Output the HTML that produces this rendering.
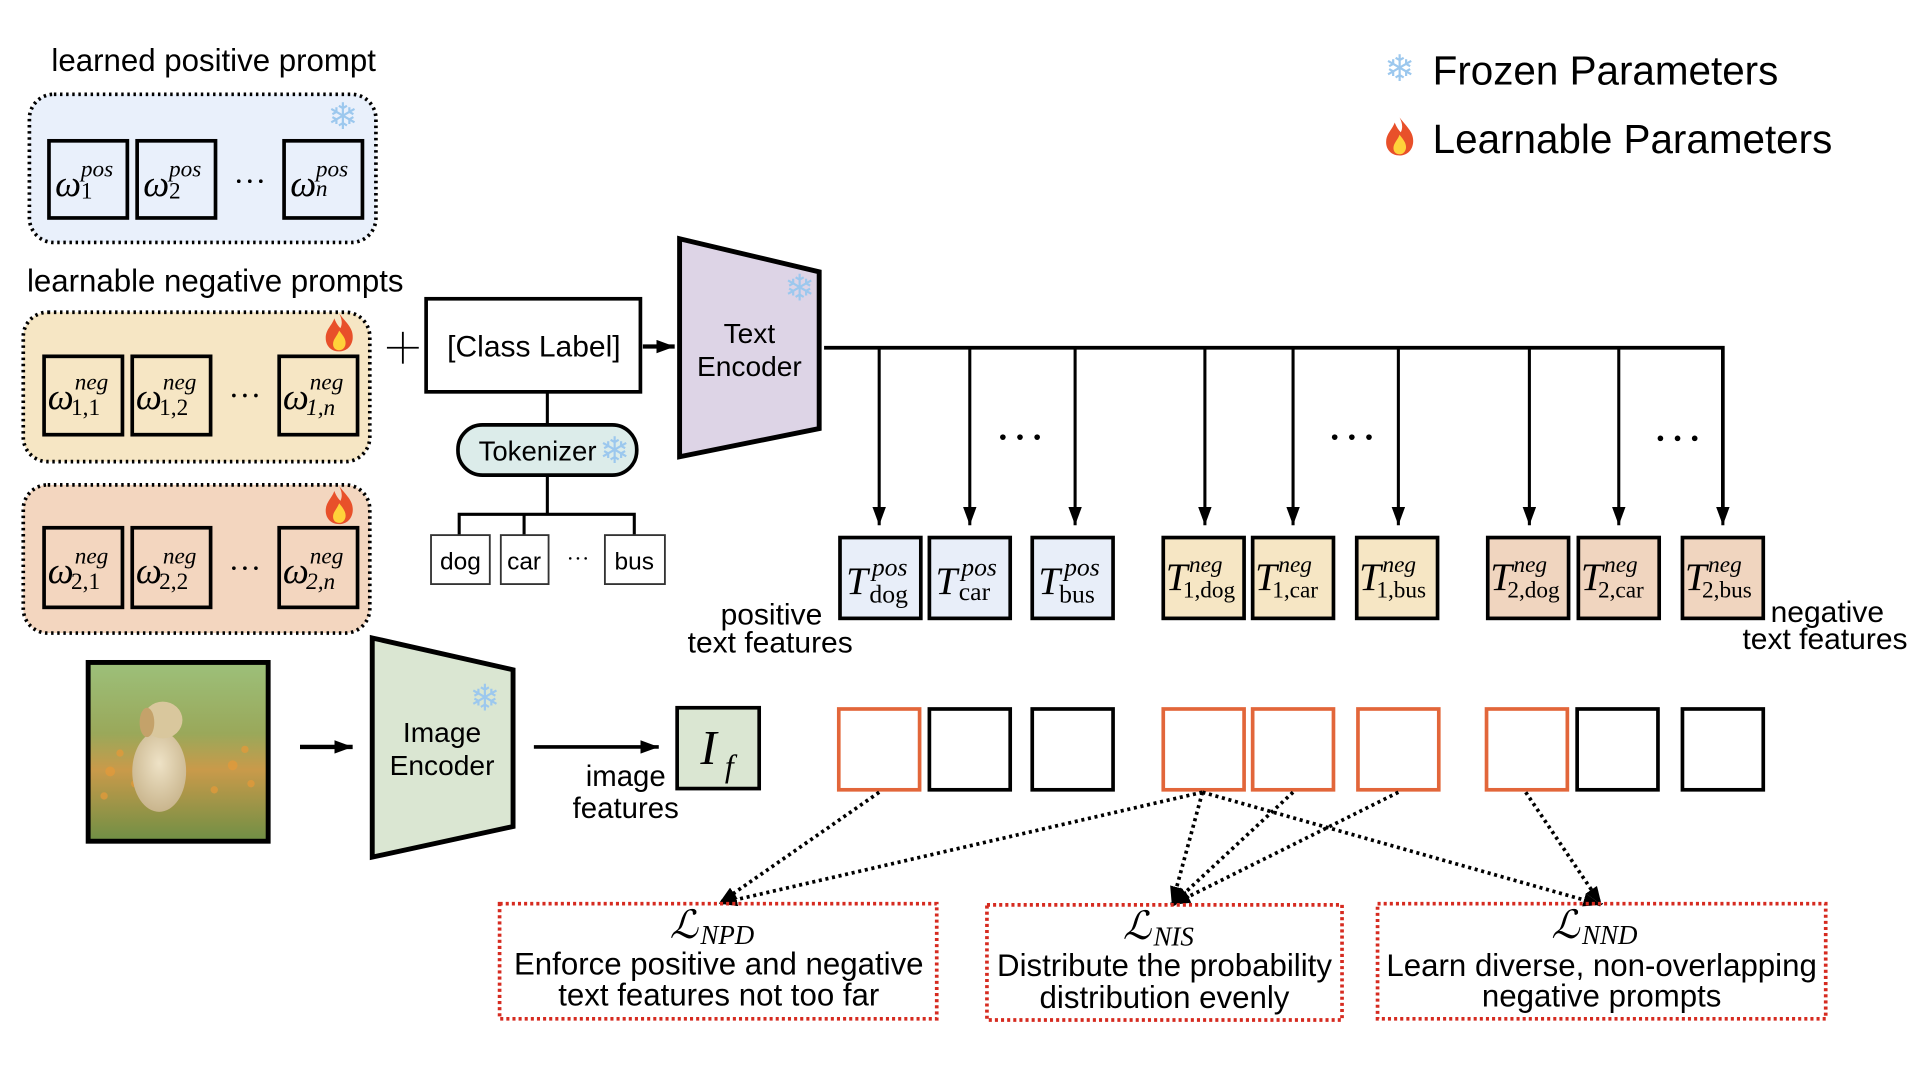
<!DOCTYPE html>
<html><head><meta charset="utf-8"><style>
html,body{margin:0;padding:0;background:#fff;}
svg{display:block;}
.s{font-family:"Liberation Sans",sans-serif;fill:#000;}
.m{font-family:"Liberation Serif",serif;font-style:italic;fill:#000;}
</style></head><body>
<svg width="1920" height="1080" viewBox="0 0 1568 882" xmlns="http://www.w3.org/2000/svg">
<defs>
<marker id="ah" viewBox="0 0 10 10" refX="10" refY="5" markerWidth="15" markerHeight="11" orient="auto" markerUnits="userSpaceOnUse" preserveAspectRatio="none">
<path d="M0,0 L10,5 L0,10 z" fill="#000"/></marker>
<g id="snow"><text x="0" y="0" font-family="DejaVu Sans,sans-serif" font-size="30" fill="#9cc8ee" text-anchor="middle" dominant-baseline="central">❄</text></g>
<g id="fire"><path d="M0,-16 C6,-8 12,-4 11,5 C10,12 5,15 0,15 C-6,15 -11,11 -11,4 C-11,-3 -6,-6 -4,-12 C-2,-7 0,-5 1,-4 C3,-8 2,-12 0,-16 z" fill="#e8502a"/><path d="M0,-2 C4,3 6,6 5,10 C4,13 2,14 0,14 C-3,14 -5,12 -5,9 C-5,5 -2,3 0,-2 z" fill="#ffd23a"/></g>
<g id="dots"><circle cx="-14" cy="0" r="2.3"/><circle cx="0" cy="0" r="2.3"/><circle cx="14" cy="0" r="2.3"/></g>
<g id="sdots"><circle cx="-9" cy="0" r="1.5"/><circle cx="0" cy="0" r="1.5"/><circle cx="9" cy="0" r="1.5"/></g>
<radialGradient id="dg" cx="0.5" cy="0.4" r="0.6"><stop offset="0" stop-color="#eee2c6"/><stop offset="1" stop-color="#c9b58d"/></radialGradient>
<linearGradient id="bg" x1="0" y1="0" x2="0" y2="1"><stop offset="0" stop-color="#9cc07a"/><stop offset="0.4" stop-color="#9aa85a"/><stop offset="0.6" stop-color="#c99a4a"/><stop offset="1" stop-color="#6f8f45"/></linearGradient>
</defs>

<!-- legend -->
<use href="#snow" x="1143" y="56"/>
<text class="s" x="1170" y="69" font-size="33">Frozen Parameters</text>
<use href="#fire" x="1143" y="112"/>
<text class="s" x="1170" y="125" font-size="33">Learnable Parameters</text>

<!-- positive prompt -->
<text class="s" x="42" y="58" font-size="25.5">learned positive prompt</text>
<rect x="24" y="77" width="283" height="121" rx="20" fill="#e9f0fb" stroke="#000" stroke-width="3" stroke-dasharray="2,3"/>
<use href="#snow" x="280" y="95"/>
<g stroke="#000" stroke-width="3" fill="none">
<rect x="40" y="115" width="64" height="63"/><rect x="112" y="115" width="64" height="63"/><rect x="232" y="115" width="64" height="63"/>
</g>
<text class="m" font-size="30"><tspan x="45" y="160">ω</tspan><tspan x="66" y="144" font-size="19">pos</tspan><tspan x="66" y="162" font-size="19" font-style="normal">1</tspan></text>
<text class="m" font-size="30"><tspan x="117" y="160">ω</tspan><tspan x="138" y="144" font-size="19">pos</tspan><tspan x="138" y="162" font-size="19" font-style="normal">2</tspan></text>
<text class="m" font-size="30"><tspan x="237" y="160">ω</tspan><tspan x="258" y="144" font-size="19">pos</tspan><tspan x="258" y="160" font-size="19">n</tspan></text>
<use href="#sdots" x="204" y="148"/>

<!-- negative prompts -->
<text class="s" x="22" y="238" font-size="25.5">learnable negative prompts</text>
<rect x="19" y="255" width="283" height="122" rx="20" fill="#f6e6c4" stroke="#000" stroke-width="3" stroke-dasharray="2,3"/>
<use href="#fire" x="277" y="272"/>
<g stroke="#000" stroke-width="3" fill="none">
<rect x="36" y="291" width="64" height="64"/><rect x="108" y="291" width="64" height="64"/><rect x="228" y="291" width="64" height="64"/>
</g>
<text class="m" font-size="30"><tspan x="39" y="334">ω</tspan><tspan x="61" y="318" font-size="19">neg</tspan><tspan x="58" y="339" font-size="19" font-style="normal">1,1</tspan></text>
<text class="m" font-size="30"><tspan x="111" y="334">ω</tspan><tspan x="133" y="318" font-size="19">neg</tspan><tspan x="130" y="339" font-size="19" font-style="normal">1,2</tspan></text>
<text class="m" font-size="30"><tspan x="231" y="334">ω</tspan><tspan x="253" y="318" font-size="19">neg</tspan><tspan x="250" y="339" font-size="19">1,n</tspan></text>
<use href="#sdots" x="200" y="323"/>

<rect x="19" y="396" width="283" height="121" rx="20" fill="#f3d6bf" stroke="#000" stroke-width="3" stroke-dasharray="2,3"/>
<use href="#fire" x="277" y="413"/>
<g stroke="#000" stroke-width="3" fill="none">
<rect x="36" y="431" width="64" height="65"/><rect x="108" y="431" width="64" height="65"/><rect x="228" y="431" width="64" height="65"/>
</g>
<text class="m" font-size="30"><tspan x="39" y="476">ω</tspan><tspan x="61" y="460" font-size="19">neg</tspan><tspan x="58" y="481" font-size="19" font-style="normal">2,1</tspan></text>
<text class="m" font-size="30"><tspan x="111" y="476">ω</tspan><tspan x="133" y="460" font-size="19">neg</tspan><tspan x="130" y="481" font-size="19" font-style="normal">2,2</tspan></text>
<text class="m" font-size="30"><tspan x="231" y="476">ω</tspan><tspan x="253" y="460" font-size="19">neg</tspan><tspan x="250" y="481" font-size="19">2,n</tspan></text>
<use href="#sdots" x="200" y="464"/>

<!-- plus & class label -->
<g stroke="#000" stroke-width="1.5"><line x1="316" y1="284" x2="342" y2="284"/><line x1="329" y1="271" x2="329" y2="297"/></g>
<rect x="348" y="244" width="175" height="76" fill="#fff" stroke="#000" stroke-width="3"/>
<text class="s" x="436" y="291" font-size="24.5" text-anchor="middle">[Class Label]</text>
<line x1="525" y1="283" x2="551" y2="283" stroke="#000" stroke-width="3.5" marker-end="url(#ah)"/>

<!-- tokenizer -->
<line x1="447" y1="320" x2="447" y2="347" stroke="#000" stroke-width="2.5"/>
<rect x="374" y="347" width="146" height="41" rx="20" fill="#dcecea" stroke="#000" stroke-width="3"/>
<text class="s" x="439" y="376" font-size="22.5" text-anchor="middle">Tokenizer</text>
<use href="#snow" x="502" y="368"/>
<g stroke="#000" stroke-width="2.5" fill="none">
<line x1="447" y1="388" x2="447" y2="420"/>
<polyline points="375,437 375,420 518,420 518,437"/>
<line x1="428" y1="420" x2="428" y2="437"/>
</g>
<g stroke="#333" stroke-width="1.5" fill="#fff">
<rect x="352" y="437" width="48" height="40"/><rect x="409" y="437" width="39" height="40"/><rect x="494" y="437" width="49" height="40"/>
</g>
<text class="s" x="376" y="465" font-size="20" text-anchor="middle">dog</text>
<text class="s" x="428" y="465" font-size="20" text-anchor="middle">car</text>
<text class="s" x="518" y="465" font-size="20" text-anchor="middle">bus</text>
<g transform="translate(472,456) scale(0.7)"><use href="#sdots"/></g>

<!-- text encoder -->
<polygon points="555,195 669,222 669,350 555,373" fill="#ddd4e6" stroke="#000" stroke-width="4"/>
<use href="#snow" x="653" y="235"/>
<text class="s" x="612" y="280" font-size="23" text-anchor="middle">Text</text>
<text class="s" x="612" y="307" font-size="23" text-anchor="middle">Encoder</text>

<!-- distribution lines -->
<polyline points="673,284 1407,284 1407,416" stroke="#000" stroke-width="3" fill="none"/>
<g stroke="#000" stroke-width="2.5" marker-end="url(#ah)">
<line x1="718" y1="284" x2="718" y2="429"/><line x1="792" y1="284" x2="792" y2="429"/><line x1="878" y1="284" x2="878" y2="429"/>
<line x1="984" y1="284" x2="984" y2="429"/><line x1="1056" y1="284" x2="1056" y2="429"/><line x1="1142" y1="284" x2="1142" y2="429"/>
<line x1="1249" y1="284" x2="1249" y2="429"/><line x1="1322" y1="284" x2="1322" y2="429"/><line x1="1407" y1="284" x2="1407" y2="429"/>
</g>
<use href="#dots" x="833" y="357"/>
<use href="#dots" x="1104" y="357"/>
<use href="#dots" x="1370" y="358"/>

<!-- T boxes -->
<g stroke="#000" stroke-width="3">
<rect x="686" y="439" width="66" height="66" fill="#e8eef9"/><rect x="759" y="439" width="66" height="66" fill="#e8eef9"/><rect x="843" y="439" width="66" height="66" fill="#e8eef9"/>
<rect x="950" y="439" width="66" height="66" fill="#f6e6c4"/><rect x="1023" y="439" width="66" height="66" fill="#f6e6c4"/><rect x="1108" y="439" width="66" height="66" fill="#f6e6c4"/>
<rect x="1215" y="439" width="66" height="66" fill="#f0d5bf"/><rect x="1289" y="439" width="66" height="66" fill="#f0d5bf"/><rect x="1374" y="439" width="66" height="66" fill="#f0d5bf"/>
</g>
<g class="m" font-size="32">
<text><tspan x="691" y="485">T</tspan><tspan x="712" y="470" font-size="21">pos</tspan><tspan x="710" y="492" font-size="21" font-style="normal">dog</tspan></text>
<text><tspan x="764" y="485">T</tspan><tspan x="785" y="470" font-size="21">pos</tspan><tspan x="783" y="490" font-size="21" font-style="normal">car</tspan></text>
<text><tspan x="848" y="485">T</tspan><tspan x="869" y="470" font-size="21">pos</tspan><tspan x="865" y="492" font-size="21" font-style="normal">bus</tspan></text>
<text><tspan x="952" y="482">T</tspan><tspan x="971" y="467" font-size="19">neg</tspan><tspan x="966" y="488" font-size="19" font-style="normal">1,dog</tspan></text>
<text><tspan x="1025" y="482">T</tspan><tspan x="1044" y="467" font-size="19">neg</tspan><tspan x="1039" y="488" font-size="19" font-style="normal">1,car</tspan></text>
<text><tspan x="1110" y="482">T</tspan><tspan x="1129" y="467" font-size="19">neg</tspan><tspan x="1124" y="488" font-size="19" font-style="normal">1,bus</tspan></text>
<text><tspan x="1217" y="482">T</tspan><tspan x="1236" y="467" font-size="19">neg</tspan><tspan x="1231" y="488" font-size="19" font-style="normal">2,dog</tspan></text>
<text><tspan x="1291" y="482">T</tspan><tspan x="1310" y="467" font-size="19">neg</tspan><tspan x="1305" y="488" font-size="19" font-style="normal">2,car</tspan></text>
<text><tspan x="1376" y="482">T</tspan><tspan x="1395" y="467" font-size="19">neg</tspan><tspan x="1390" y="488" font-size="19" font-style="normal">2,bus</tspan></text>
</g>
<text class="s" x="630" y="510" font-size="24.5" text-anchor="middle">positive</text>
<text class="s" x="629" y="533" font-size="24.5" text-anchor="middle">text features</text>
<text class="s" x="1446" y="508" font-size="24.5">negative</text>
<text class="s" x="1423" y="530" font-size="24.5">text features</text>

<!-- dog image -->
<rect x="72" y="541" width="147" height="146" fill="url(#bg)" stroke="#000" stroke-width="4"/>
<g fill="#e39a3a" opacity="0.75"><circle cx="90" cy="630" r="4"/><circle cx="110" cy="640" r="3"/><circle cx="190" cy="625" r="4"/><circle cx="205" cy="640" r="3"/><circle cx="175" cy="645" r="3"/><circle cx="85" cy="650" r="3"/><circle cx="200" cy="612" r="3"/><circle cx="98" cy="615" r="3"/></g>
<ellipse cx="130" cy="630" rx="22" ry="33" fill="url(#dg)"/>
<ellipse cx="133" cy="588" rx="16" ry="15" fill="#d9c79d"/>
<ellipse cx="120" cy="590" rx="6" ry="12" fill="#c4a26a"/>

<line x1="245" y1="610" x2="288" y2="610" stroke="#000" stroke-width="3.5" marker-end="url(#ah)"/>

<!-- image encoder -->
<polygon points="304,521 419,547 419,675 304,700" fill="#dae6d2" stroke="#000" stroke-width="4"/>
<use href="#snow" x="396" y="570"/>
<text class="s" x="361" y="606" font-size="23" text-anchor="middle">Image</text>
<text class="s" x="361" y="633" font-size="23" text-anchor="middle">Encoder</text>
<line x1="436" y1="610" x2="538" y2="610" stroke="#000" stroke-width="3" marker-end="url(#ah)"/>
<text class="s" x="511" y="642" font-size="24" text-anchor="middle">image</text>
<text class="s" x="511" y="668" font-size="24" text-anchor="middle">features</text>
<rect x="553" y="578" width="67" height="66" fill="#dae6d2" stroke="#000" stroke-width="3"/>
<text class="m" font-size="40"><tspan x="572" y="624">I</tspan><tspan x="592" y="634" font-size="26">f</tspan></text>

<!-- similarity boxes -->
<g stroke-width="3" fill="#fff">
<rect x="685" y="579" width="66" height="66" stroke="#e2663a"/>
<rect x="759" y="579" width="66" height="66" stroke="#000"/>
<rect x="843" y="579" width="66" height="66" stroke="#000"/>
<rect x="950" y="579" width="66" height="66" stroke="#e2663a"/>
<rect x="1023" y="579" width="66" height="66" stroke="#e2663a"/>
<rect x="1109" y="579" width="66" height="66" stroke="#e2663a"/>
<rect x="1214" y="579" width="66" height="66" stroke="#e2663a"/>
<rect x="1288" y="579" width="66" height="66" stroke="#000"/>
<rect x="1374" y="579" width="66" height="66" stroke="#000"/>
</g>

<!-- dotted arrows -->
<g stroke="#000" stroke-width="3" stroke-dasharray="2.5,3" fill="none" marker-end="url(#ah)">
<line x1="718" y1="647" x2="587" y2="738"/>
<line x1="982" y1="647" x2="587" y2="738"/>
<line x1="982" y1="647" x2="957" y2="739"/>
<line x1="1056" y1="647" x2="957" y2="739"/>
<line x1="1142" y1="647" x2="957" y2="739"/>
<line x1="982" y1="647" x2="1308" y2="739"/>
<line x1="1246" y1="647" x2="1308" y2="739"/>
</g>

<!-- loss boxes -->
<g stroke="#d62b20" stroke-width="3" stroke-dasharray="2.5,2.5" fill="none">
<rect x="408" y="738" width="357" height="94"/>
<rect x="806" y="739" width="290" height="94"/>
<rect x="1125" y="738" width="366" height="94"/>
</g>
<text class="m" font-size="32"><tspan x="547" y="766">ℒ</tspan><tspan x="572" y="771" font-size="22">NPD</tspan></text>
<text class="s" x="587" y="796" font-size="25.5" text-anchor="middle">Enforce positive and negative</text>
<text class="s" x="587" y="821" font-size="25.5" text-anchor="middle">text features not too far</text>
<text class="m" font-size="32"><tspan x="917" y="767">ℒ</tspan><tspan x="942" y="772" font-size="22">NIS</tspan></text>
<text class="s" x="951" y="797" font-size="25.5" text-anchor="middle">Distribute the probability</text>
<text class="s" x="951" y="823" font-size="25.5" text-anchor="middle">distribution evenly</text>
<text class="m" font-size="32"><tspan x="1267" y="766">ℒ</tspan><tspan x="1292" y="771" font-size="22">NND</tspan></text>
<text class="s" x="1308" y="797" font-size="25.5" text-anchor="middle">Learn diverse, non-overlapping</text>
<text class="s" x="1308" y="822" font-size="25.5" text-anchor="middle">negative prompts</text>
</svg>
</body></html>
